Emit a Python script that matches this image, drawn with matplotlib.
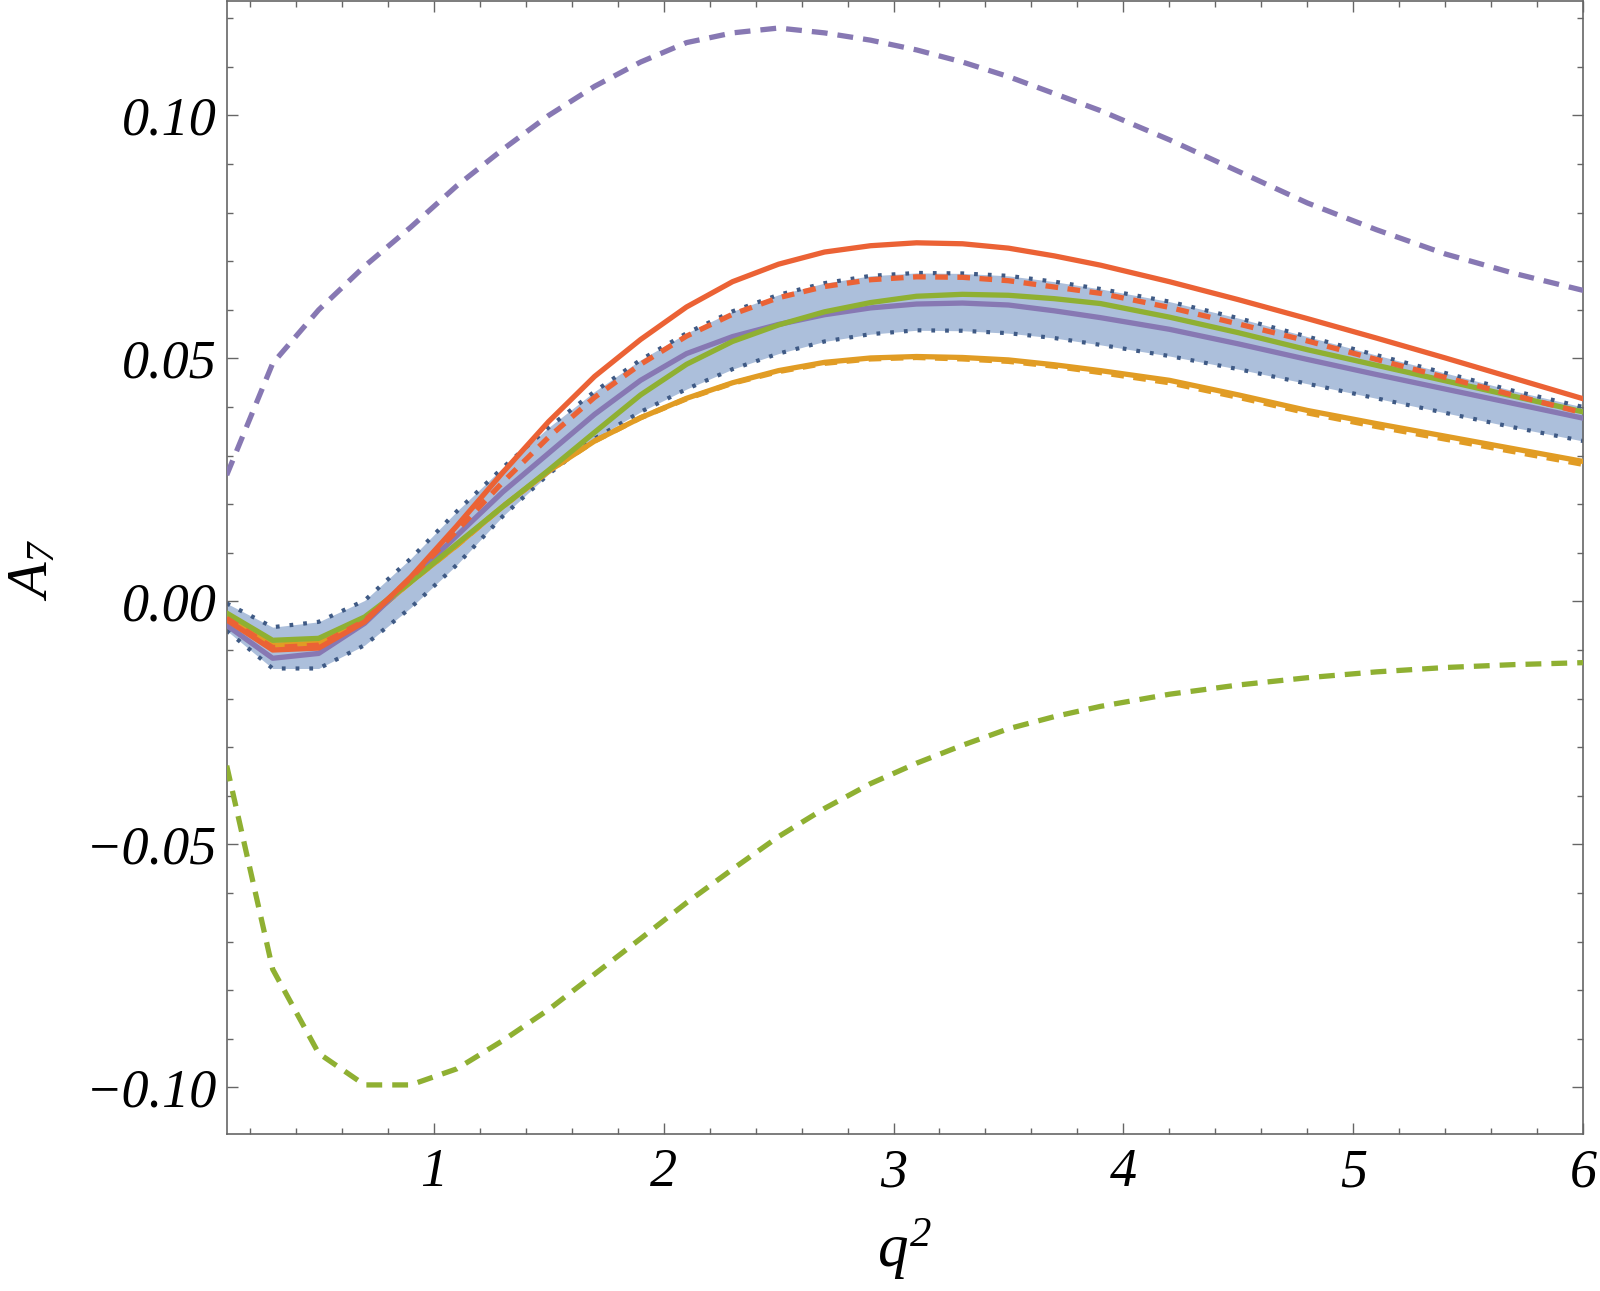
import matplotlib
matplotlib.use("Agg")
import matplotlib.pyplot as plt
from matplotlib.ticker import MultipleLocator, FuncFormatter

plt.rcParams['font.family'] = ['Liberation Serif', 'DejaVu Serif']
plt.rcParams['mathtext.fontset'] = 'custom'
plt.rcParams['mathtext.rm'] = 'Liberation Serif:italic'
plt.rcParams['mathtext.it'] = 'Liberation Serif:italic'

# ---------------- data ----------------
q2 = [0.1, 0.3, 0.5, 0.7, 0.9, 1.1, 1.3, 1.5, 1.7, 1.9, 2.1, 2.3, 2.5, 2.7, 2.9,
      3.1, 3.3, 3.5, 3.7, 3.9, 4.2, 4.5, 4.8, 5.1, 5.4, 5.7, 6.0]

band_upper = [-0.0004, -0.0053, -0.0042, 0.0002, 0.0088, 0.0185, 0.0275, 0.0358, 0.0432,
              0.0497, 0.0552, 0.0597, 0.0631, 0.0655, 0.067, 0.0676, 0.0675, 0.067,
              0.0658, 0.0643, 0.0617, 0.0583, 0.0545, 0.0507, 0.047, 0.0433, 0.0400]
band_lower = [-0.0060, -0.0138, -0.0138, -0.0090, -0.0013, 0.0075, 0.0175, 0.0262, 0.0335,
              0.0390, 0.0437, 0.0478, 0.0510, 0.0535, 0.0550, 0.0558, 0.0557, 0.0552,
              0.0542, 0.0528, 0.0505, 0.0478, 0.0448, 0.0418, 0.0388, 0.0358, 0.0330]

red_solid = [-0.0038, -0.0100, -0.0096, -0.0042, 0.0050, 0.0155, 0.0265, 0.0370, 0.0463,
             0.0539, 0.0606, 0.0658, 0.0694, 0.0719, 0.0732, 0.0738, 0.0736, 0.0727,
             0.0711, 0.0692, 0.0658, 0.0621, 0.0582, 0.0542, 0.0501, 0.0459, 0.0417]
red_dashed = [-0.0035, -0.0095, -0.0090, -0.0040, 0.0048, 0.0145, 0.0245, 0.0338, 0.0420,
              0.0488, 0.0546, 0.0591, 0.0625, 0.0648, 0.0662, 0.0668, 0.0667, 0.0660,
              0.0647, 0.0634, 0.0605, 0.0571, 0.0536, 0.0498, 0.0461, 0.0424, 0.0388]
orange_solid = [-0.0032, -0.0090, -0.0086, -0.0040, 0.0040, 0.0115, 0.0195, 0.0268, 0.0330,
                0.0378, 0.0418, 0.0450, 0.0475, 0.0492, 0.0501, 0.0504, 0.0502, 0.0497,
                0.0487, 0.0475, 0.0455, 0.0425, 0.0393, 0.0366, 0.0340, 0.0314, 0.0288]
orange_dashed = [-0.0032, -0.0090, -0.0086, -0.0040, 0.0040, 0.0115, 0.0195, 0.0268, 0.0330,
                 0.0378, 0.0417, 0.0449, 0.0473, 0.0490, 0.0499, 0.0502, 0.0499, 0.0494,
                 0.0484, 0.0471, 0.0450, 0.0420, 0.0388, 0.0360, 0.0334, 0.0308, 0.0282]
green_solid = [-0.0024, -0.0080, -0.0076, -0.0032, 0.0040, 0.0118, 0.0195, 0.0270, 0.0348,
               0.0425, 0.0488, 0.0535, 0.0569, 0.0596, 0.0615, 0.0628, 0.0632, 0.0630,
               0.0623, 0.0613, 0.0585, 0.0553, 0.0518, 0.0486, 0.0454, 0.0422, 0.0390]
purple_solid = [-0.0049, -0.0117, -0.0107, -0.0045, 0.0045, 0.0135, 0.0225, 0.0305, 0.0385,
                0.0455, 0.0510, 0.0545, 0.0570, 0.0590, 0.0604, 0.0612, 0.0614, 0.0610,
                0.0598, 0.0584, 0.0560, 0.0530, 0.0498, 0.0467, 0.0437, 0.0407, 0.0377]
purple_dashed = [0.026, 0.049, 0.060, 0.069, 0.077, 0.0855, 0.093, 0.100, 0.106, 0.111,
                 0.115, 0.117, 0.118, 0.117, 0.1155, 0.1135, 0.111, 0.108, 0.1045, 0.101,
                 0.095, 0.0885, 0.082, 0.0765, 0.0715, 0.0675, 0.064]
green_dashed = [-0.0338, -0.0757, -0.0930, -0.0995, -0.0995, -0.0962, -0.0904, -0.0840,
                -0.0767, -0.0694, -0.0620, -0.0551, -0.0484, -0.0426, -0.0375, -0.0333,
                -0.0296, -0.0262, -0.0237, -0.0216, -0.0191, -0.0172, -0.0157, -0.0145,
                -0.0136, -0.0130, -0.0126]

x_ticks = [1, 2, 3, 4, 5, 6]
y_ticks = [-0.10, -0.05, 0.00, 0.05, 0.10]

# ---------------- style ----------------
C_RED = "#EB6235"
C_ORANGE = "#E19C24"
C_GREEN = "#8FB032"
C_PURPLE = "#8778B3"
C_BAND = "#ACBFDB"
C_DOT = "#3F5A85"
C_FRAME = "#666666"

fig = plt.figure(figsize=(16, 12.91), dpi=100)
ax = fig.add_axes([226.7 / 1600, 1 - 1134 / 1291, (1583.3 - 226.7) / 1600, (1134 - 1.3) / 1291])

lw = 3.8
ax.fill_between(q2, band_lower, band_upper, color=C_BAND, lw=0, zorder=1)
ax.plot(q2, band_upper, color=C_DOT, lw=3.0, dashes=(0.9, 2.4), zorder=2)
ax.plot(q2, band_lower, color=C_DOT, lw=3.0, dashes=(0.9, 2.4), zorder=2)

ax.plot(q2, orange_dashed, color=C_ORANGE, lw=lw, dashes=(2.4, 1.8), zorder=3)
ax.plot(q2, orange_solid, color=C_ORANGE, lw=lw, zorder=3)
ax.plot(q2, purple_solid, color=C_PURPLE, lw=lw, zorder=3)
ax.plot(q2, green_solid, color=C_GREEN, lw=lw, zorder=3)
ax.plot(q2, red_dashed, color=C_RED, lw=lw, dashes=(2.4, 1.8), zorder=3)
ax.plot(q2, red_solid, color=C_RED, lw=lw, zorder=3)
ax.plot(q2, purple_dashed, color=C_PURPLE, lw=lw, dashes=(3.0, 1.9), zorder=3)
ax.plot(q2, green_dashed, color=C_GREEN, lw=lw, dashes=(3.0, 1.9), zorder=3)

ax.set_xlim(0.1, 6.0)
ax.set_ylim(-0.1096, 0.1235)

ax.set_xticks(x_ticks)
ax.set_yticks(y_ticks)
ax.xaxis.set_minor_locator(MultipleLocator(0.2))
ax.yaxis.set_minor_locator(MultipleLocator(0.01))
ax.yaxis.set_major_formatter(FuncFormatter(lambda v, p: ("%.2f" % v).replace("-", "\u2212")))
ax.xaxis.set_major_formatter(FuncFormatter(lambda v, p: "%d" % round(v)))

for s in ax.spines.values():
    s.set_color(C_FRAME)
    s.set_linewidth(1.2)

ax.tick_params(which='both', direction='in', top=True, right=True, color=C_FRAME, width=1.0)
ax.tick_params(which='major', length=8)
ax.tick_params(which='minor', length=4.5)
ax.tick_params(axis='x', which='major', labelsize=39, pad=10)
ax.tick_params(axis='y', which='major', labelsize=39, pad=7)
for lab in ax.get_xticklabels() + ax.get_yticklabels():
    lab.set_fontstyle('italic')

fig.text(33 / 1600, 1 - 570 / 1291, r"$A_7$", rotation=90, ha='center', va='center', fontsize=42)
fig.text(905 / 1600, 1 - 1267 / 1291, r"$q^2$", ha='center', va='baseline', fontsize=44)

fig.savefig("out.png", dpi=100)
